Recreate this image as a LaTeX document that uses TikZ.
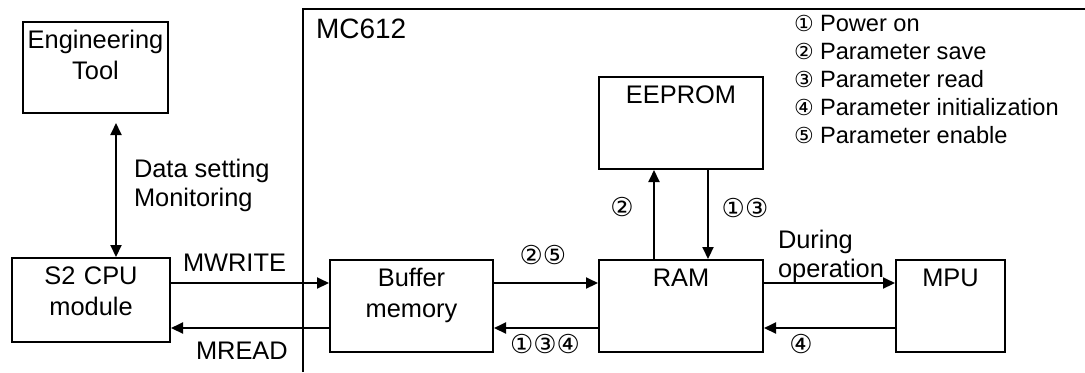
\documentclass[tikz,border=0pt]{standalone}
\usepackage{fontspec}
\setmainfont{Liberation Sans}
\newfontfamily\circfont{DejaVu Sans}
\usetikzlibrary{arrows.meta}

\newcommand{\legnum}[1]{\makebox[13pt][l]{\circfont\fontsize{11}{11}\selectfont #1}}

\tikzset{
  blk/.style={draw, inner sep=0pt, align=center, text height=13pt,
    font=\fontsize{12.7}{15.5}\selectfont},
  lbl/.style={inner sep=0pt, align=left, font=\fontsize{12.7}{14.5}\selectfont},
  num/.style={inner sep=0pt, font=\circfont\fontsize{13}{13}\selectfont},
}

\begin{document}
\begin{tikzpicture}[x=0.5pt,y=-0.5pt,line width=1pt,>={Triangle[length=6pt,width=5.5pt]}]
\useasboundingbox (0,0) rectangle (1085,372);
% ---------- MC612 frame ----------
\draw (303,372) |- (1085,9);
\node[lbl, anchor=base west, font=\fontsize{14}{14}\selectfont] (mc) at (315,38) {MC612};
% ---------- blocks ----------
\node[blk, text width=72.5pt, text depth=32.5pt] (eng) at (95.5,67.5) {Engineering\\Tool};
\node[blk, text width=79pt, text depth=29pt] (cpu) at (91,300) {S2 CPU\\module};
\node[blk, text width=81.5pt, text depth=33pt] (buf) at (411.5,306) {Buffer\\memory};
\node[blk, text width=82pt, text depth=33pt] (eep) at (681,123) {EEPROM};
\node[blk, text width=82pt, text depth=33pt] (ram) at (681,306) {RAM};
\node[blk, text width=54.5pt, text depth=33pt] (mpu) at (950.5,306) {MPU};
% ---------- rows and columns of the arrows ----------
\coordinate (hi) at (0,283);
\coordinate (lo) at (0,328);
\coordinate (up) at (654,0);
\coordinate (dn) at (708,0);
\coordinate (top) at (116,123);
% ---------- arrows ----------
\draw[<->] (top) -- (cpu.north -| top);
\draw[->] (cpu.east |- hi) -- (buf.west |- hi);
\draw[->] (buf.west |- lo) -- (cpu.east |- lo);
\draw[->] (buf.east |- hi) -- (ram.west |- hi);
\draw[->] (ram.west |- lo) -- (buf.east |- lo);
\draw[->] (ram.east |- hi) -- (mpu.west |- hi);
\draw[->] (mpu.west |- lo) -- (ram.east |- lo);
\draw[->] (ram.north -| up) -- (eep.south -| up);
\draw[->] (eep.south -| dn) -- (ram.north -| dn);
% ---------- labels ----------
\node[lbl, anchor=base west] (data) at (133,206) {Data setting\\Monitoring};
\node[lbl, anchor=base west] (mw) at (182,271) {MWRITE};
\node[lbl, anchor=base west] (mr) at (195,359) {MREAD};
\node[lbl, anchor=base west] (dur) at (777,277) {During\\operation};
\node[num] (n25) at (543,255) {②⑤};
\node[num] (n134) at (545,344) {①③④};
\node[num] (n2) at (622,207) {②};
\node[num] (n13) at (745,208) {①③};
\node[num] (n4) at (801,344) {④};
% ---------- legend ----------
\node[lbl, anchor=base west, font=\fontsize{11.8}{13.9}\selectfont] (leg) at (793,143) {%
  \legnum{①}Power on\\
  \legnum{②}Parameter save\\
  \legnum{③}Parameter read\\
  \legnum{④}Parameter initialization\\
  \legnum{⑤}Parameter enable};
\end{tikzpicture}
\end{document}
